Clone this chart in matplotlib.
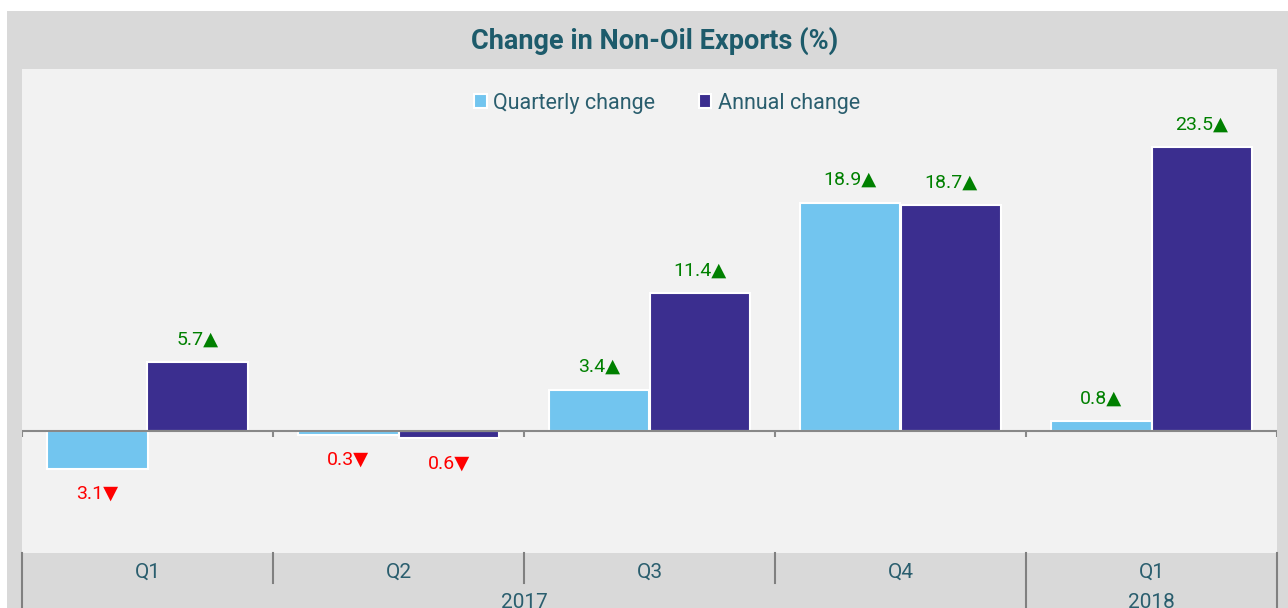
import matplotlib
matplotlib.use("Agg")
from matplotlib import pyplot as plt
from matplotlib.patches import Rectangle
from matplotlib.transforms import blended_transform_factory

# data
quarters = ["Q1", "Q2", "Q3", "Q4", "Q1"]
years = ["2017", "2018"]
year_spans = [(0, 4), (4, 5)]
quarterly = [-3.1, -0.3, 3.4, 18.9, 0.8]
annual = [5.7, -0.6, 11.4, 18.7, 23.5]

light_blue = "#72c5ef"
purple = "#3b2e8f"
teal = "#1d5b6b"
text_col = "#2a5e6e"

plt.rcParams["font.family"] = ["Roboto", "DejaVu Sans"]

W, H = 1288, 608
fig = plt.figure(figsize=(W / 100, H / 100), dpi=100)
fig.patch.set_facecolor("white")

# outer grey panel
fig.patches.append(Rectangle((7 / W, 0), 1 - 7 / W, (H - 11) / H,
                             transform=fig.transFigure, facecolor="#d9d9d9",
                             edgecolor="none", zorder=-10))

left, right, top, bottom = 22, 1277, 69, 553
ax = fig.add_axes([left / W, (H - bottom) / H, (right - left) / W, (bottom - top) / H])
ax.set_zorder(1)
ax.set_facecolor("#f2f2f2")
for s in ax.spines.values():
    s.set_visible(False)
ax.set_xlim(0, len(quarters))
ax.set_ylim(-10.1, 30.0)
ax.set_xticks([])
ax.set_yticks([])

x = [i + 0.5 for i in range(len(quarters))]
w = 0.4
b1 = ax.bar([v - w / 2 for v in x], quarterly, w, color=light_blue,
            edgecolor="white", linewidth=1.5, label="Quarterly change", zorder=2)
b2 = ax.bar([v + w / 2 for v in x], annual, w, color=purple,
            edgecolor="white", linewidth=1.5, label="Annual change", zorder=2)

# baseline and ticks
ax.axhline(0, color="#888888", lw=1.5, zorder=3)
ax.vlines(range(len(quarters) + 1), -0.5, 0, color="#888888", lw=1.5, zorder=3)

# value labels
for bars, vals in ((b1, quarterly), (b2, annual)):
    for bar, v in zip(bars, vals):
        cx = bar.get_x() + bar.get_width() / 2
        if v >= 0:
            ax.annotate(f"{v:.1f}\u25B2", (cx, v), xytext=(0, 23),
                        textcoords="offset pixels", ha="center", va="center",
                        color="#008000", fontsize=14)
        else:
            ax.annotate(f"{abs(v):.1f}\u25BC", (cx, v), xytext=(0, -25),
                        textcoords="offset pixels", ha="center", va="center",
                        color="#ff0000", fontsize=14)

# category band below the plot
trans = blended_transform_factory(ax.transData, ax.transAxes)
ah = bottom - top
for i, q in enumerate(quarters):
    ax.text(x[i], -19 / ah, q, transform=trans, ha="center", va="center",
            color=text_col, fontsize=15, clip_on=False)
long_lines = {0, 4, 5}
for i in range(len(quarters) + 1):
    ln = 60 if i in long_lines else 30
    ax.plot([i, i], [0, -ln / ah], transform=trans, color="#808080",
            lw=1.5, clip_on=False)
for yr, (a, b) in zip(years, year_spans):
    ax.text((a + b) / 2, -49 / ah, yr, transform=trans, ha="center",
            va="center", color=text_col, fontsize=15, clip_on=False)

leg = ax.legend(loc="center", bbox_to_anchor=(0.514, 1 - 34 / ah), ncol=2,
                frameon=False, fontsize=15.5, handlelength=0.6, handleheight=0.6,
                handletextpad=0.3, columnspacing=2.0)
for t in leg.get_texts():
    t.set_color(text_col)

fig.text(655 / W, 1 - 41 / H, "Change in Non-Oil Exports (%)", ha="center",
         va="center", color=teal, fontsize=19.5, fontweight="bold")

fig.savefig("out.png", dpi=100)
